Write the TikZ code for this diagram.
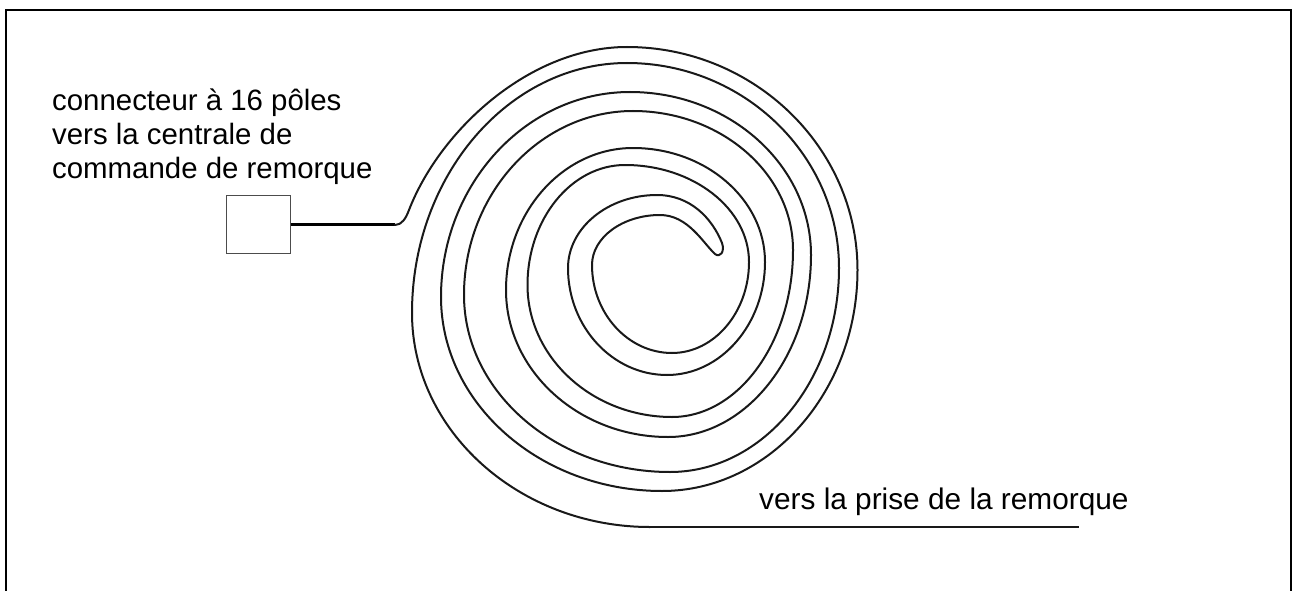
\documentclass[tikz,border=0pt]{standalone}
\usepackage{fontspec}
\setmainfont{Liberation Sans}
\newcommand\hvq[4]{.. controls ({#1+0.55*(#3-#1)},#2) and (#3,{#4-0.55*(#4-#2)}) .. (#3,#4)}
\newcommand\vhq[4]{.. controls (#1,{#2+0.55*(#4-#2)}) and ({#3-0.55*(#3-#1)},#4) .. (#3,#4)}
\tikzset{
  cable/.style={draw=black!90, line width=2pt, line cap=round, line join=round},
  lead/.style={draw=black, line width=3pt},
  tail/.style={draw=black!90, line width=2.1pt},
  lbl/.style={inner sep=0pt, align=left, font=\fontsize{29.4pt}{33.8pt}\selectfont, text=black},
  lblb/.style={inner sep=0pt, font=\fontsize{29.8pt}{33.2pt}\selectfont, text=black},
  conbox/.style={draw=black!70, line width=1pt, fill=white, minimum width=63.5pt, minimum height=58pt, inner sep=0pt},
  frame/.style={draw=black, line width=2pt}
}
\begin{document}
\begin{tikzpicture}[x=1pt,y=-1pt]
\useasboundingbox (0,0) rectangle (1292,591);
\draw[frame] (6,600) -- (6,10) -- (1291,10) -- (1291,600);
\node[conbox] (box) at (258.3,224) {};
\coordinate (bend) at (395,225);
\coordinate (cableend) at (650,527);
\coordinate (tailend) at (1079,527);
\draw[lead] (box.east) -- (box.east -| bend);
\draw[cable] (bend) .. controls (402,225) and (406,218) .. (409,210)
  .. controls (440,130) and (530,47) .. (627,47)
  \hvq{627}{47}{857.5}{270}
  \vhq{857.5}{270}{662}{491}
  \hvq{662}{491}{441}{297}
  \vhq{441}{297}{630}{92}
  \hvq{630}{92}{811}{255}
  \vhq{811}{255}{668}{437}
  \hvq{668}{437}{506}{290}
  \vhq{506}{290}{633}{148}
  \hvq{633}{148}{765}{262}
  \vhq{765}{262}{667}{375}
  \hvq{667}{375}{568}{268}
  \vhq{568}{268}{657}{195}
  .. controls (690,195) and (712,218) .. (722,243)
  .. controls (725,252) and (720,258) .. (715,254)
  .. controls (703,243) and (688,215) .. (660,215)
  \hvq{660}{215}{592}{265}
  \vhq{592}{265}{672}{353}
  \hvq{672}{353}{749}{262}
  \vhq{749}{262}{625}{165}
  \hvq{625}{165}{527.5}{285}
  \vhq{527.5}{285}{672}{417}
  \hvq{672}{417}{793}{250}
  \vhq{793}{250}{633}{111}
  \hvq{633}{111}{464}{295}
  \vhq{464}{295}{670}{472}
  \hvq{670}{472}{839}{268}
  \vhq{839}{268}{627}{63}
  \hvq{627}{63}{412}{313}
  \vhq{412}{313}{650}{527}
  -- (cableend);
\draw[tail] (cableend) -- (tailend);
\node[lbl,anchor=base west] (t1) at (52,178.5) {connecteur à 16 pôles\\vers la centrale de\\commande de remorque};
\node[lblb,anchor=base west] (t2) at (759,509.5) {vers la prise de la remorque};
\end{tikzpicture}
\end{document}
